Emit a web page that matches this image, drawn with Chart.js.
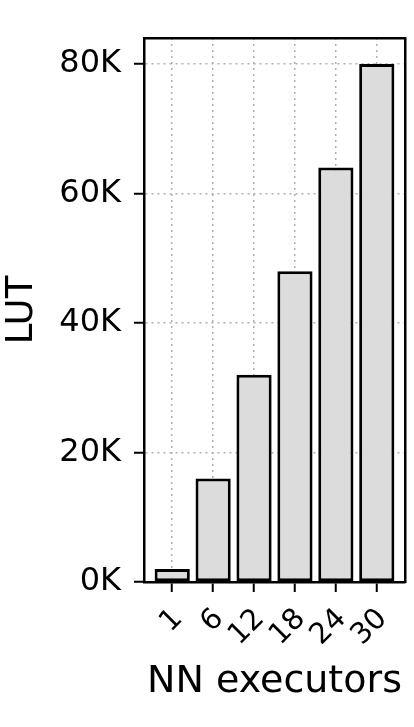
<!DOCTYPE html>
<html>
<head>
<meta charset="utf-8">
<script src="https://cdn.jsdelivr.net/npm/chart.js@4"></script>
<style>
  html, body { margin: 0; padding: 0; background: #ffffff; }
  canvas { display: block; }
</style>
</head>
<body>
<canvas id="c" width="414" height="727"></canvas>
<script>
const categories = ['1', '6', '12', '18', '24', '30'];
const lutValues = [2000, 16000, 32000, 48000, 64000, 80000];
const yTickValues = [0, 20000, 40000, 60000, 80000];
const xTitle = 'NN executors';
const yTitle = 'LUT';

const FONT = 'DejaVu Sans';
const gridDash = [2, 4];

new Chart(document.getElementById('c'), {
  type: 'bar',
  data: {
    datasets: [{
      data: categories.map((c, i) => ({ x: i, y: lutValues[i] })),
      backgroundColor: '#dcdcdc',
      borderColor: '#000000',
      borderWidth: 3,
      borderSkipped: false,
      barPercentage: 0.86,
      categoryPercentage: 1.0
    }]
  },
  options: {
    responsive: false,
    animation: false,
    devicePixelRatio: 1,
    layout: { padding: { top: 38, right: 9, bottom: 0, left: 0 } },
    plugins: { legend: { display: false }, tooltip: { enabled: false } },
    scales: {
      x: {
        type: 'linear',
        position: 'bottom',
        offset: false,
        min: -0.69,
        max: 5.69,
        afterBuildTicks: (s) => { s.ticks = categories.map((c, i) => ({ value: i })); },
        afterFit: (s) => { s.height = 145; },
        ticks: {
          autoSkip: false,
          minRotation: 45,
          maxRotation: 45,
          padding: 10,
          labelOffset: 6,
          color: '#000',
          font: { family: FONT, size: 29 },
          callback: (v) => categories[v]
        },
        grid: {
          offset: false,
          color: '#b0b0b0',
          lineWidth: 1.5,
          tickLength: 10,
          tickColor: '#000',
          tickWidth: 2,
          tickBorderDash: []
        },
        border: { display: true, color: '#000', width: 2.5, dash: gridDash },
        title: {
          display: true,
          text: xTitle,
          color: '#000',
          font: { family: FONT, size: 38 },
          padding: { top: 0, bottom: 22 }
        }
      },
      x2: {
        type: 'linear',
        position: 'top',
        min: 0, max: 1,
        afterFit: (s) => { s.height = 0; },
        ticks: { display: false },
        grid: { display: false, drawOnChartArea: false, drawTicks: false },
        border: { display: true, color: '#000', width: 2.5 }
      },
      y: {
        type: 'linear',
        position: 'left',
        min: 0,
        max: 84000,
        afterBuildTicks: (s) => { s.ticks = yTickValues.map(v => ({ value: v })); },
        afterFit: (s) => { s.width = 144; },
        ticks: {
          padding: 13,
          color: '#000',
          font: { family: FONT, size: 32 },
          callback: (v) => (v / 1000) + 'K'
        },
        grid: {
          color: '#b0b0b0',
          lineWidth: 1.5,
          tickLength: 10,
          tickColor: '#000',
          tickWidth: 2,
          tickBorderDash: []
        },
        border: { display: true, color: '#000', width: 2.5, dash: gridDash },
        title: {
          display: true,
          text: yTitle,
          color: '#000',
          font: { family: FONT, size: 37 },
          padding: { top: 0, bottom: 0 }
        }
      },
      y2: {
        type: 'linear',
        position: 'right',
        min: 0, max: 1,
        afterFit: (s) => { s.width = 0; },
        ticks: { display: false },
        grid: { display: false, drawOnChartArea: false, drawTicks: false },
        border: { display: true, color: '#000', width: 2.5 }
      }
    }
  }
});
</script>
</body>
</html>
